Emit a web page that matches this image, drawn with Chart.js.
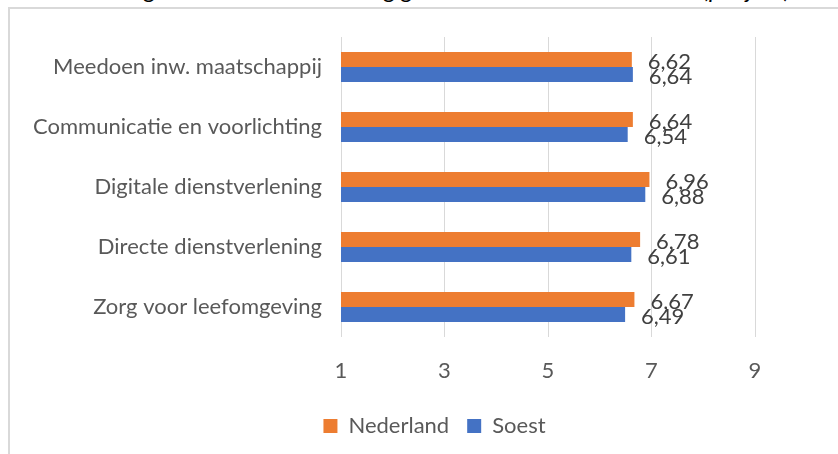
<!DOCTYPE html>
<html>
<head>
<meta charset="utf-8">
<script src="https://cdn.jsdelivr.net/npm/chart.js@4"></script>
<style>
  html, body { margin:0; padding:0; width:838px; height:454px; overflow:hidden; background:#fff; }
  #title { position:absolute; left:40px; top:-26px; font-family: Lato, sans-serif; font-style:italic; font-size:24px; color:#000; white-space:nowrap; }
  #frame { position:absolute; left:8px; top:7px; width:900px; height:500px; border:2px solid #d9d9d9; box-sizing:border-box; }
  #wrap { position:absolute; left:0; top:0; width:838px; height:454px; }
</style>
</head>
<body>
<div id="title">Waardering thema's dienstverlening gemeente Soest en Nederland (per jaar)</div>
<div id="frame"></div>
<div id="wrap"><canvas id="c" width="838" height="454"></canvas></div>
<script>
const categories = ["Meedoen inw. maatschappij", "Communicatie en voorlichting", "Digitale dienstverlening", "Directe dienstverlening", "Zorg voor leefomgeving"];
const nederland = [6.62, 6.64, 6.96, 6.78, 6.67];
const soest = [6.64, 6.54, 6.88, 6.61, 6.49];
const xTicks = [1, 3, 5, 7, 9];

const FONT = "Lato, 'Open Sans', sans-serif";
const GREY = "#595959";

const labelPlugin = {
  id: 'valueLabels',
  afterDatasetsDraw(chart) {
    const ctx = chart.ctx;
    ctx.save();
    ctx.font = "22px " + FONT;
    ctx.fillStyle = "#404040";
    ctx.textAlign = "left";
    ctx.textBaseline = "middle";
    chart.data.datasets.forEach((ds, di) => {
      const meta = chart.getDatasetMeta(di);
      meta.data.forEach((bar, i) => {
        const txt = ds.data[i].toFixed(2).replace('.', ',');
        ctx.fillText(txt, bar.x + 16, bar.y + 2);
      });
    });
    ctx.restore();
  }
};

const legendShift = {
  id: 'legendShift',
  afterLayout(chart) {
    chart.legend.left += 57;
    chart.legend.right += 57;
    chart.legend.top += 4;
    chart.legend.bottom += 4;
  }
};

new Chart(document.getElementById('c'), {
  type: 'bar',
  data: {
    labels: categories,
    datasets: [
      { label: 'Nederland', data: nederland, backgroundColor: '#ED7D31', barPercentage: 1, categoryPercentage: 0.5 },
      { label: 'Soest', data: soest, backgroundColor: '#4472C4', barPercentage: 1, categoryPercentage: 0.5 }
    ]
  },
  options: {
    indexAxis: 'y',
    responsive: false,
    animation: false,
    layout: { padding: { left: 0, right: 83, top: 37, bottom: 11 } },
    plugins: {
      legend: {
        position: 'bottom',
        labels: { font: { family: FONT, size: 22 }, color: GREY, boxWidth: 14, boxHeight: 14, padding: 18 }
      },
      tooltip: { enabled: false }
    },
    scales: {
      x: {
        min: 1, max: 9,
        afterBuildTicks(scale) { scale.ticks = xTicks.map(v => ({ value: v })); },
        grid: { color: '#d9d9d9', drawTicks: false, lineWidth: 1 },
        border: { display: false },
        ticks: { font: { family: FONT, size: 22 }, color: GREY, padding: 21 },
        afterFit(scale) { scale.height = 56; }
      },
      y: {
        grid: { display: false, drawTicks: false },
        border: { display: false },
        ticks: { font: { family: FONT, size: 22 }, color: GREY, padding: 19 },
        afterFit(scale) { scale.width = 341; }
      }
    }
  },
  plugins: [labelPlugin, legendShift]
});
</script>
</body>
</html>
